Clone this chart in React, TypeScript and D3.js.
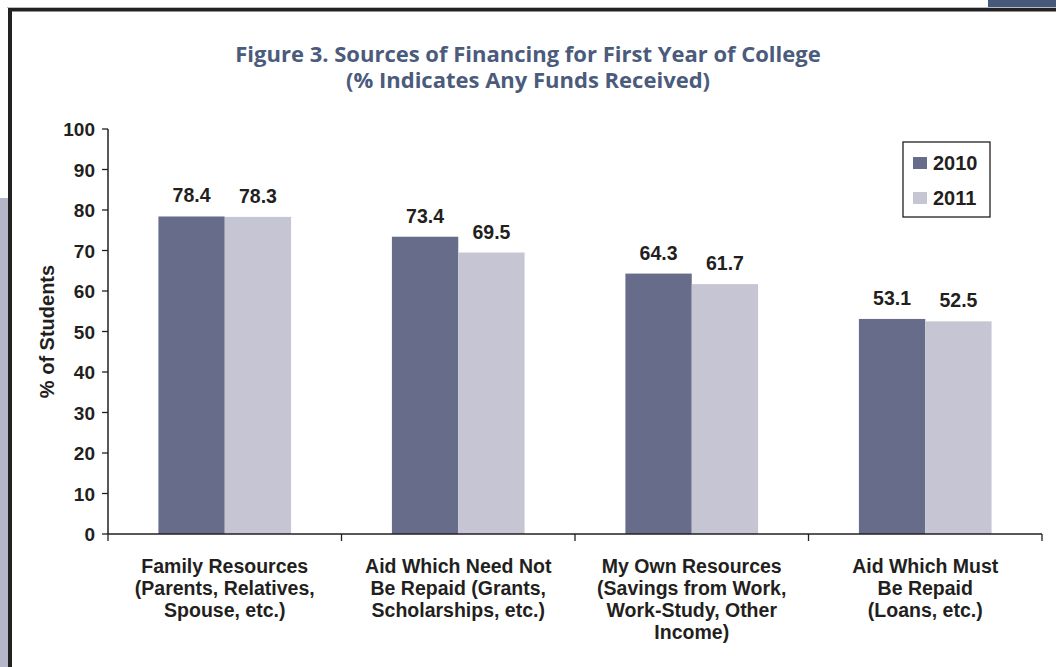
import React from "react";
import * as d3 from "d3";

const categories: string[][] = [
  ["Family Resources", "(Parents, Relatives,", "Spouse, etc.)"],
  ["Aid Which Need Not", "Be Repaid (Grants,", "Scholarships, etc.)"],
  ["My Own Resources", "(Savings from Work,", "Work-Study, Other", "Income)"],
  ["Aid Which Must", "Be Repaid", "(Loans, etc.)"],
];
const seriesNames = ["2010", "2011"];
const values2010 = [78.4, 73.4, 64.3, 53.1];
const values2011 = [78.3, 69.5, 61.7, 52.5];
const yTicks = [0, 10, 20, 30, 40, 50, 60, 70, 80, 90, 100];
const colors = ["#676c8a", "#c6c5d4"];

const W = 1056;
const H = 667;
const left = 108;
const right = 1042;
const top = 129;
const bottom = 534;
const font = "Liberation Sans, Arial, sans-serif";

export default function App() {
  const x = d3.scaleBand<number>().domain([0, 1, 2, 3]).range([left, right]).paddingInner(0).paddingOuter(0);
  const inner = d3.scaleBand<number>().domain([0, 1]).range([0, x.bandwidth()]).paddingInner(0).paddingOuter(0.76);
  const y = d3.scaleLinear().domain([0, 100]).range([bottom, top]);
  const series = [values2010, values2011];

  return (
    <svg width={W} height={H} style={{ position: "absolute", left: 0, top: 0, background: "#fff" }}>
      {/* page decorations */}
      <rect x={0} y={198} width={8} height={H - 198} fill="#b5b7c9" />
      <rect x={988} y={0} width={68} height={8} fill="#47597a" />
      <rect x={7} y={7} width={W} height={1} fill="#bbb" />
      <rect x={8} y={8} width={W} height={3.5} fill="#222" />
      <rect x={8} y={8} width={4} height={H} fill="#222" />

      <text x={528} y={62} textAnchor="middle" fill="#4b5b7c" fontFamily="Open Sans, sans-serif" fontWeight={700} fontSize={22}>
        Figure 3. Sources of Financing for First Year of College
      </text>
      <text x={528} y={88} textAnchor="middle" fill="#4b5b7c" fontFamily="Open Sans, sans-serif" fontWeight={700} fontSize={22}>
        (% Indicates Any Funds Received)
      </text>

      {/* bars */}
      {series.map((vals, si) =>
        vals.map((v, ci) => {
          const bx = (x(ci) as number) + (inner(si) as number);
          const bw = inner.bandwidth();
          return (
            <g key={`${si}-${ci}`}>
              <rect x={bx} y={y(v)} width={bw} height={bottom - y(v)} fill={colors[si]} />
              <text x={bx + bw / 2} y={y(v) - 14} textAnchor="middle" fontFamily={font} fontWeight={700} fontSize={19.5} fill="#231f20">
                {v.toFixed(1)}
              </text>
            </g>
          );
        })
      )}

      {/* y axis */}
      <line x1={left} x2={left} y1={top} y2={bottom} stroke="#231f20" strokeWidth={1.5} />
      {yTicks.map((t) => (
        <g key={t}>
          <line x1={left - 6} x2={left} y1={y(t)} y2={y(t)} stroke="#231f20" strokeWidth={1.3} />
          <text x={left - 13} y={y(t) + 7} textAnchor="end" fontFamily={font} fontWeight={700} fontSize={19} fill="#231f20">
            {t}
          </text>
        </g>
      ))}
      <text transform={`translate(54,${(top + bottom) / 2}) rotate(-90)`} textAnchor="middle" fontFamily={font} fontWeight={700} fontSize={20} fill="#231f20">
        % of Students
      </text>

      {/* x axis */}
      <line x1={left} x2={right} y1={bottom} y2={bottom} stroke="#231f20" strokeWidth={1.5} />
      {[0, 1, 2, 3, 4].map((i) => {
        const tx = i < 4 ? (x(i) as number) : right;
        return <line key={i} x1={tx} x2={tx} y1={bottom} y2={bottom + 7} stroke="#231f20" strokeWidth={1.3} />;
      })}
      {categories.map((lines, ci) => (
        <text key={ci} textAnchor="middle" fontFamily={font} fontWeight={700} fontSize={19.5} fill="#231f20">
          {lines.map((l, li) => (
            <tspan key={li} x={(x(ci) as number) + x.bandwidth() / 2} y={573 + li * 22}>
              {l}
            </tspan>
          ))}
        </text>
      ))}

      {/* legend */}
      <rect x={903} y={142} width={87} height={75} fill="#fff" stroke="#231f20" strokeWidth={1.3} />
      {seriesNames.map((n, i) => (
        <g key={n}>
          <rect x={913} y={157 + i * 35} width={14} height={12} fill={colors[i]} />
          <text x={933} y={170 + i * 35} fontFamily={font} fontWeight={700} fontSize={20} fill="#231f20">
            {n}
          </text>
        </g>
      ))}
    </svg>
  );
}
